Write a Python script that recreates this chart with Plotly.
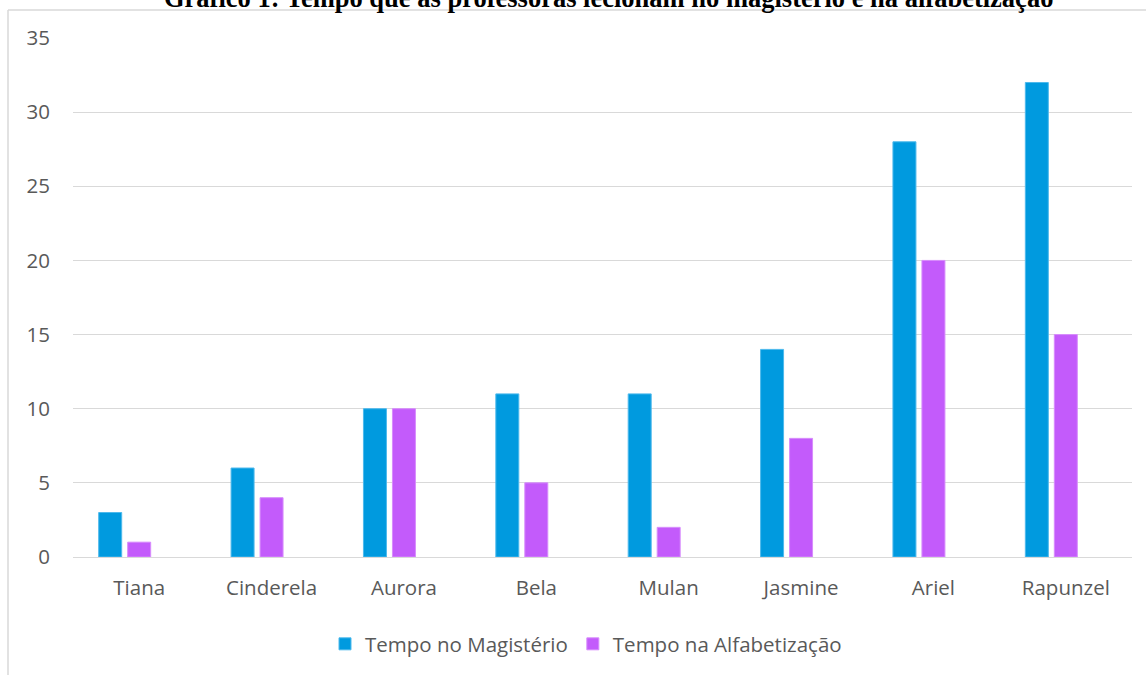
import plotly.graph_objects as go

categories = ["Tiana", "Cinderela", "Aurora", "Bela", "Mulan", "Jasmine", "Ariel", "Rapunzel"]
magisterio = [3, 6, 10, 11, 11, 14, 28, 32]
alfabetizacao = [1, 4, 10, 5, 2, 8, 20, 15]
vazio = [None] * len(categories)
y_ticks = [0, 5, 10, 15, 20, 25, 30, 35]

title_text = "Gráfico 1: Tempo que as professoras lecionam no magistério e na alfabetização"

W, H = 1146, 675
L, R, T, B = 73, 14, 38, 117
pw, ph = W - L - R, H - T - B

def px_x(x):
    return (x - L) / pw

def px_y(y):
    return (H - B - y) / ph

FONT = "Open Sans"
FS = 20.5

fig = go.Figure()
fig.add_trace(go.Bar(x=categories, y=magisterio, name="Tempo no Magistério",
                     marker=dict(color="#009ADF", line=dict(color="#4DB9EC", width=1))))
fig.add_trace(go.Bar(x=categories, y=alfabetizacao, name="Tempo na Alfabetização",
                     marker=dict(color="#C35BFB", line=dict(color="#D78CFC", width=1))))
fig.add_trace(go.Bar(x=categories, y=vazio, name="", showlegend=False,
                     marker=dict(color="#A5A5A5")))

fig.update_layout(
    width=W, height=H,
    margin=dict(l=L, r=R, t=T, b=B, pad=0),
    paper_bgcolor="white", plot_bgcolor="white",
    barmode="group", bargap=0.343, bargroupgap=0.207,
    font=dict(family=FONT, color="#595959", size=FS),
    showlegend=True,
    legend=dict(orientation="h", x=px_x(586), xanchor="center", y=px_y(644), yanchor="middle",
                font=dict(family=FONT, size=FS, color="#595959"), itemclick=False,
                itemwidth=30, bgcolor="rgba(0,0,0,0)"),
    xaxis=dict(showgrid=False, showline=False, zeroline=False, ticks="",
               tickfont=dict(family=FONT, size=FS, color="#595959"),
               ticklabelstandoff=16, fixedrange=True),
    yaxis=dict(range=[0, 35], tickvals=y_ticks, showgrid=True, gridcolor="#D9D9D9", gridwidth=1.3,
               zeroline=True, zerolinecolor="#D9D9D9", zerolinewidth=1.3, showline=False, ticks="",
               tickfont=dict(family=FONT, size=FS, color="#595959"),
               ticklabelstandoff=22, fixedrange=True),
    annotations=[dict(text="<b>" + title_text + "</b>", xref="paper", yref="paper",
                      x=px_x(608), y=px_y(-2), xanchor="center", yanchor="middle",
                      showarrow=False, font=dict(family="Liberation Serif", size=26.5, color="black"))],
    shapes=[
        dict(type="line", xref="paper", yref="paper", x0=px_x(8), x1=px_x(8), y0=px_y(10), y1=px_y(700),
             line=dict(color="#D9D9D9", width=1.5)),
        dict(type="line", xref="paper", yref="paper", x0=px_x(8), x1=px_x(1160), y0=px_y(10), y1=px_y(10),
             line=dict(color="#D9D9D9", width=1.5)),
    ],
)

fig.write_html("out.html", config={"displayModeBar": False},
               post_script="document.body.style.margin='0';document.body.style.overflow='hidden';")
